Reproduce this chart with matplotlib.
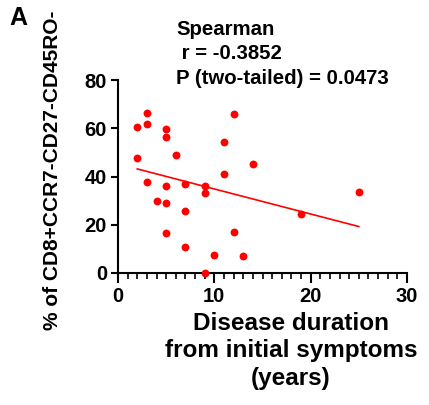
import numpy as np
import matplotlib
matplotlib.use("Agg")
import matplotlib.pyplot as plt
from matplotlib.ticker import MultipleLocator

plt.rcParams['font.family'] = ['Liberation Sans', 'DejaVu Sans']
plt.rcParams['font.weight'] = 'bold'

# disease duration (years) and % of CD8+CCR7-CD27-CD45RO-
duration = [2, 2, 3, 3, 3, 4, 5, 5, 5, 5, 5, 6, 7, 7, 7, 9, 9, 9, 10, 11, 11, 12, 12, 13, 14, 19, 25]
percent = [60.4, 47.6, 66.5, 61.9, 37.8, 29.7, 59.6, 56.3, 35.9, 29.0, 16.6, 49.0, 36.7, 25.9, 10.8,
           36.1, 33.1, 0.0, 7.6, 54.1, 41.1, 66.1, 17.2, 7.2, 45.2, 24.4, 33.5]
stats_text = "Spearman\n r = -0.3852\nP (two-tailed) = 0.0473"

x = np.array(duration, float)
y = np.array(percent, float)
k, b = np.polyfit(x, y, 1)

fig = plt.figure(figsize=(4.29, 4.05), dpi=100)
ax = fig.add_axes([118/429, 1-273/405, 289/429, 193/405])

ax.scatter(x, y, s=32, color='#ff0000', zorder=3, linewidths=0, clip_on=False)
xl = np.array([x.min(), x.max()])
ax.plot(xl, k*xl + b, color='#ff0000', lw=1.2)

ax.set_xlim(0, 30)
ax.set_ylim(0, 80)
ax.xaxis.set_major_locator(MultipleLocator(10))
ax.xaxis.set_minor_locator(MultipleLocator(1))
ax.yaxis.set_major_locator(MultipleLocator(20))
for s in ['top', 'right']:
    ax.spines[s].set_visible(False)
for s in ['left', 'bottom']:
    ax.spines[s].set_linewidth(1.5)
ax.tick_params(axis='both', which='major', width=1.5, labelsize=14.5, pad=3)
ax.tick_params(axis='x', which='major', length=7)
ax.tick_params(axis='x', which='minor', length=4, width=1.2)
ax.tick_params(axis='y', which='major', length=5)
for lab in ax.get_xticklabels() + ax.get_yticklabels():
    lab.set_fontweight('bold')

fig.text(291/429, 1-312/405, "Disease duration\nfrom initial symptoms\n(years)", ha='center', va='top',
         fontsize=17.5, fontweight='bold', linespacing=1.25)
fig.text(53/429, 1-170/405, "% of CD8+CCR7-CD27-CD45RO-", rotation=90, ha='center', va='center',
         fontsize=15, fontweight='bold')
fig.text(176/429, 1-20/405, stats_text, ha='left', va='top', fontsize=14.7, fontweight='bold',
         linespacing=1.35)
fig.text(9/429, 1-6/405, "A", ha='left', va='top', fontsize=18, fontweight='bold')

fig.savefig("out.png", dpi=100)
